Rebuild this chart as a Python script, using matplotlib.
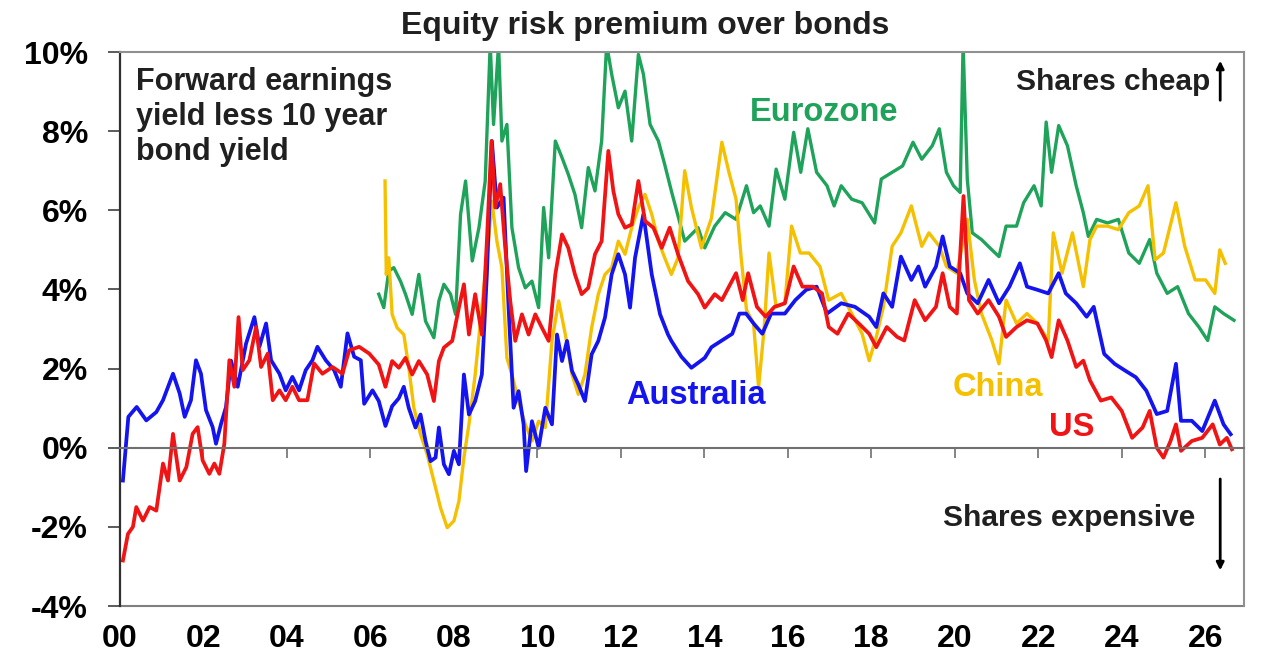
import numpy as np
import matplotlib
matplotlib.use("Agg")
import matplotlib.pyplot as plt

plt.rcParams['font.family'] = ['Liberation Sans', 'DejaVu Sans']
plt.rcParams['font.weight'] = 'bold'

# Australia: forward earnings yield less 10y bond yield (%)
aus_year = [2000.07, 2000.20, 2000.40, 2000.63, 2000.87, 2001.03, 2001.27, 2001.43, 2001.55, 2001.70,
            2001.82, 2001.94, 2002.06, 2002.22, 2002.30, 2002.42, 2002.54, 2002.66, 2002.82, 2003.02,
            2003.22, 2003.34, 2003.50, 2003.62, 2003.82, 2003.97, 2004.13, 2004.29, 2004.45, 2004.61,
            2004.73, 2004.93, 2005.13, 2005.29, 2005.45, 2005.61, 2005.77, 2005.85, 2006.05, 2006.20,
            2006.36, 2006.52, 2006.68, 2006.80, 2006.92, 2007.08, 2007.20, 2007.32, 2007.44, 2007.56,
            2007.64, 2007.76, 2007.88, 2008.00, 2008.12, 2008.24, 2008.36, 2008.51, 2008.67, 2008.79,
            2008.91, 2009.03, 2009.19, 2009.31, 2009.43, 2009.55, 2009.67, 2009.73, 2009.87, 2010.03,
            2010.19, 2010.35, 2010.47, 2010.59, 2010.71, 2010.83, 2010.98, 2011.14, 2011.30, 2011.46,
            2011.62, 2011.78, 2011.94, 2012.10, 2012.22, 2012.34, 2012.54, 2012.74, 2012.94, 2013.13,
            2013.21, 2013.45, 2013.69, 2014.01, 2014.17, 2014.42, 2014.67, 2014.84, 2015.00, 2015.18,
            2015.39, 2015.60, 2015.93, 2016.18, 2016.44, 2016.69, 2016.94, 2017.28, 2017.61, 2017.95,
            2018.12, 2018.29, 2018.50, 2018.71, 2018.96, 2019.13, 2019.29, 2019.55, 2019.71, 2019.88,
            2020.13, 2020.30, 2020.55, 2020.81, 2021.06, 2021.31, 2021.56, 2021.73, 2021.98, 2022.24,
            2022.49, 2022.66, 2022.91, 2023.16, 2023.33, 2023.58, 2023.83, 2024.08, 2024.34, 2024.59,
            2024.84, 2025.09, 2025.30, 2025.42, 2025.68, 2025.93, 2026.23, 2026.44, 2026.61]
aus_val = [-0.83, 0.78, 1.03, 0.69, 0.90, 1.20, 1.87, 1.37, 0.78, 1.20,
           2.21, 1.87, 0.95, 0.52, 0.10, 0.60, 1.03, 2.20, 1.54, 2.63,
           3.30, 2.55, 3.14, 2.21, 1.87, 1.45, 1.79, 1.45, 1.96, 2.21,
           2.55, 2.21, 1.96, 1.54, 2.89, 2.30, 2.21, 1.11, 1.45, 1.18,
           0.55, 1.05, 1.25, 1.54, 1.00, 0.51, 0.84, 0.17, -0.34, -0.25,
           0.51, -0.42, -0.67, -0.08, -0.42, 1.85, 0.84, 1.18, 1.85, 4.38,
           7.75, 6.07, 6.32, 3.54, 1.01, 1.43, 0.59, -0.59, 0.67, 0.00,
           1.01, 0.59, 2.86, 2.19, 2.70, 1.94, 1.60, 1.18, 2.36, 2.70,
           3.29, 4.38, 4.89, 4.38, 3.54, 4.80, 5.90, 4.38, 3.37, 2.86,
           2.70, 2.30, 2.02, 2.27, 2.54, 2.71, 2.88, 3.39, 3.39, 3.14,
           2.88, 3.39, 3.39, 3.73, 3.99, 4.07, 3.39, 3.65, 3.56, 3.31,
           3.05, 3.90, 3.56, 4.83, 4.24, 4.58, 4.07, 4.58, 5.34, 4.58,
           4.41, 3.90, 3.65, 4.24, 3.65, 4.07, 4.66, 4.07, 3.99, 3.90,
           4.41, 3.90, 3.65, 3.31, 3.56, 2.37, 2.12, 1.95, 1.78, 1.44,
           0.85, 0.93, 2.12, 0.68, 0.68, 0.42, 1.19, 0.59, 0.34]

# US
us_year = [2000.07, 2000.19, 2000.31, 2000.39, 2000.55, 2000.71, 2000.87, 2001.03, 2001.15, 2001.27,
           2001.43, 2001.59, 2001.74, 2001.86, 2001.98, 2002.14, 2002.26, 2002.38, 2002.50, 2002.62,
           2002.74, 2002.84, 2002.94, 2003.10, 2003.26, 2003.38, 2003.54, 2003.66, 2003.82, 2003.97,
           2004.13, 2004.29, 2004.49, 2004.65, 2004.85, 2005.09, 2005.33, 2005.49, 2005.73, 2005.97,
           2006.20, 2006.36, 2006.52, 2006.68, 2006.84, 2007.00, 2007.16, 2007.36, 2007.52, 2007.64,
           2007.76, 2007.96, 2008.12, 2008.24, 2008.36, 2008.51, 2008.67, 2008.79, 2008.90, 2008.99,
           2009.11, 2009.23, 2009.35, 2009.47, 2009.63, 2009.79, 2009.95, 2010.11, 2010.27, 2010.43,
           2010.59, 2010.74, 2010.90, 2011.06, 2011.22, 2011.38, 2011.54, 2011.70, 2011.82, 2011.94,
           2012.10, 2012.26, 2012.42, 2012.58, 2012.78, 2012.98, 2013.17, 2013.37, 2013.61, 2013.85,
           2014.01, 2014.25, 2014.42, 2014.76, 2014.92, 2015.05, 2015.26, 2015.47, 2015.68, 2015.93,
           2016.14, 2016.35, 2016.60, 2016.82, 2016.98, 2017.19, 2017.45, 2017.70, 2017.95, 2018.12,
           2018.37, 2018.62, 2018.79, 2019.04, 2019.29, 2019.55, 2019.71, 2019.88, 2020.05, 2020.21,
           2020.34, 2020.55, 2020.81, 2021.06, 2021.23, 2021.48, 2021.73, 2021.98, 2022.19, 2022.32,
           2022.49, 2022.70, 2022.91, 2023.08, 2023.24, 2023.50, 2023.75, 2024.00, 2024.25, 2024.50,
           2024.67, 2024.84, 2025.00, 2025.17, 2025.30, 2025.42, 2025.68, 2025.93, 2026.18, 2026.35,
           2026.52, 2026.64]
us_val = [-2.85, -2.18, -2.00, -1.50, -1.84, -1.50, -1.59, -0.40, -0.83, 0.35,
          -0.83, -0.49, 0.35, 0.52, -0.32, -0.66, -0.40, -0.66, 0.10, 2.21,
          1.54, 3.30, 1.96, 2.21, 3.05, 2.04, 2.38, 1.20, 1.45, 1.20,
          1.54, 1.20, 1.20, 2.13, 1.87, 2.04, 1.87, 2.46, 2.55, 2.38,
          2.10, 1.54, 2.19, 2.02, 2.27, 1.85, 2.19, 1.85, 1.18, 2.19,
          2.53, 2.70, 3.54, 4.13, 2.86, 3.88, 2.86, 5.22, 7.75, 6.07,
          6.66, 5.05, 3.71, 2.70, 3.37, 2.86, 3.37, 3.03, 2.70, 4.38,
          5.39, 5.05, 4.38, 3.88, 4.04, 4.89, 5.22, 7.50, 6.49, 5.90,
          5.56, 5.64, 6.74, 5.73, 5.56, 5.05, 5.56, 4.89, 4.21, 3.88,
          3.54, 3.88, 3.73, 4.41, 3.73, 4.41, 3.56, 3.31, 3.56, 3.65,
          4.58, 4.07, 4.07, 3.90, 3.05, 2.88, 3.39, 3.14, 2.88, 2.54,
          3.05, 2.80, 2.71, 3.73, 3.22, 3.56, 4.41, 3.56, 3.39, 6.36,
          3.73, 3.39, 3.73, 3.31, 2.80, 3.05, 3.22, 3.14, 2.71, 2.29,
          3.22, 2.71, 2.04, 2.20, 1.70, 1.19, 1.27, 0.93, 0.25, 0.51,
          0.93, 0.00, -0.25, 0.17, 0.59, -0.08, 0.17, 0.25, 0.59, 0.08,
          0.25, -0.04]

# Eurozone
eur_year = [2006.20, 2006.32, 2006.44, 2006.56, 2006.72, 2006.84, 2007.00, 2007.16, 2007.32, 2007.52,
            2007.64, 2007.76, 2007.92, 2008.04, 2008.16, 2008.28, 2008.44, 2008.60, 2008.75, 2008.87,
            2008.95, 2009.07, 2009.15, 2009.27, 2009.39, 2009.55, 2009.71, 2009.87, 2010.03, 2010.15,
            2010.27, 2010.43, 2010.59, 2010.74, 2010.90, 2011.06, 2011.22, 2011.38, 2011.54, 2011.66,
            2011.78, 2011.94, 2012.10, 2012.26, 2012.42, 2012.54, 2012.70, 2012.90, 2013.05, 2013.21,
            2013.53, 2013.85, 2014.01, 2014.25, 2014.50, 2014.76, 2015.01, 2015.18, 2015.34, 2015.55,
            2015.72, 2015.93, 2016.14, 2016.31, 2016.48, 2016.69, 2016.94, 2017.11, 2017.28, 2017.53,
            2017.78, 2018.08, 2018.24, 2018.50, 2018.75, 2019.00, 2019.21, 2019.46, 2019.63, 2019.80,
            2019.97, 2020.13, 2020.20, 2020.30, 2020.42, 2020.64, 2020.89, 2021.06, 2021.23, 2021.48,
            2021.65, 2021.90, 2022.07, 2022.19, 2022.32, 2022.49, 2022.70, 2022.91, 2023.08, 2023.20,
            2023.40, 2023.66, 2023.92, 2024.17, 2024.42, 2024.67, 2024.84, 2025.09, 2025.34, 2025.60,
            2025.85, 2026.06, 2026.23, 2026.44, 2026.69]
eur_val = [3.88, 3.54, 4.47, 4.55, 4.21, 3.88, 3.37, 4.38, 3.20, 2.78,
           3.71, 4.13, 3.88, 3.37, 5.90, 6.74, 4.72, 5.56, 6.74, 10.2,
           8.17, 10.2, 7.75, 8.17, 5.56, 4.55, 4.04, 4.21, 3.54, 6.07,
           4.80, 7.75, 7.33, 6.91, 6.40, 5.56, 7.08, 6.49, 7.75, 10.2,
           9.44, 8.59, 9.01, 7.75, 9.94, 9.44, 8.17, 7.75, 7.16, 6.49,
           5.22, 5.56, 5.05, 5.60, 5.94, 5.77, 6.62, 5.94, 6.11, 5.60,
           7.04, 6.28, 7.97, 6.96, 8.06, 6.96, 6.62, 6.11, 6.62, 6.28,
           6.19, 5.68, 6.79, 6.96, 7.12, 7.72, 7.29, 7.63, 8.06, 6.96,
           6.62, 6.45, 10.2, 6.79, 5.43, 5.26, 5.00, 4.83, 5.60, 5.60,
           6.19, 6.62, 6.11, 8.23, 6.96, 8.14, 7.63, 6.62, 5.94, 5.34,
           5.77, 5.68, 5.77, 4.92, 4.66, 5.26, 4.41, 3.90, 4.07, 3.39,
           3.05, 2.71, 3.56, 3.39, 3.22]

# China
chn_year = [2006.35, 2006.38, 2006.44, 2006.52, 2006.64, 2006.80, 2006.92, 2007.04, 2007.20, 2007.36,
            2007.52, 2007.68, 2007.84, 2008.00, 2008.12, 2008.24, 2008.36, 2008.51, 2008.67, 2008.83,
            2008.91, 2009.03, 2009.15, 2009.27, 2009.39, 2009.55, 2009.71, 2009.87, 2010.03, 2010.19,
            2010.35, 2010.51, 2010.67, 2010.83, 2010.98, 2011.14, 2011.30, 2011.46, 2011.62, 2011.78,
            2011.94, 2012.10, 2012.26, 2012.42, 2012.58, 2012.74, 2012.90, 2013.05, 2013.21, 2013.37,
            2013.53, 2013.69, 2013.93, 2014.17, 2014.42, 2014.59, 2014.76, 2014.88, 2015.01, 2015.18,
            2015.30, 2015.43, 2015.55, 2015.72, 2015.93, 2016.09, 2016.30, 2016.51, 2016.77, 2016.98,
            2017.28, 2017.53, 2017.78, 2017.95, 2018.12, 2018.29, 2018.50, 2018.71, 2018.96, 2019.21,
            2019.38, 2019.63, 2019.80, 2020.05, 2020.30, 2020.47, 2020.64, 2020.89, 2021.06, 2021.23,
            2021.48, 2021.73, 2021.98, 2022.24, 2022.36, 2022.57, 2022.82, 2023.08, 2023.24, 2023.40,
            2023.66, 2023.92, 2024.17, 2024.42, 2024.63, 2024.80, 2025.00, 2025.30, 2025.51, 2025.76,
            2026.01, 2026.23, 2026.35, 2026.48]
chn_val = [6.74, 4.38, 4.80, 3.37, 3.03, 2.86, 2.02, 1.01, 0.34, -0.17,
           -0.84, -1.52, -2.02, -1.85, -1.35, -0.25, 0.59, 1.85, 3.54, 5.22,
           6.23, 5.22, 4.55, 2.27, 1.85, 1.18, 0.59, 0.17, 0.67, 0.51,
           2.70, 3.71, 2.86, 1.85, 1.35, 1.85, 3.03, 3.88, 4.38, 4.55,
           5.22, 4.89, 5.56, 6.07, 6.40, 5.90, 5.22, 4.80, 4.38, 4.80,
           7.00, 6.07, 5.05, 5.80, 7.72, 6.96, 6.28, 4.83, 3.48, 3.14,
           1.53, 2.97, 4.92, 3.56, 3.65, 5.60, 4.92, 4.92, 4.58, 3.73,
           3.90, 3.39, 2.88, 2.20, 2.80, 3.56, 5.09, 5.43, 6.11, 5.09,
           5.43, 5.09, 4.58, 4.41, 5.77, 4.24, 3.39, 2.71, 2.12, 3.73,
           3.14, 3.39, 3.14, 2.71, 5.43, 4.41, 5.43, 4.07, 5.26, 5.60,
           5.60, 5.51, 5.94, 6.11, 6.62, 4.75, 4.92, 6.19, 5.09, 4.24,
           4.24, 3.90, 5.00, 4.66]

year_ticks = list(range(2000, 2027, 2))
year_labels = ["%02d" % (y % 100) for y in year_ticks]
pct_ticks = list(range(-4, 11, 2))

c_aus = '#1414f0'
c_us = '#f01414'
c_eur = '#1fa35a'
c_chn = '#f5c000'

fig = plt.figure(figsize=(12.8, 6.64), dpi=100)
ax = fig.add_axes([120 / 1280, 1 - 606 / 664, 1124 / 1280, 554 / 664])

ax.plot(eur_year, eur_val, color=c_eur, lw=2.4)
ax.plot(chn_year, chn_val, color=c_chn, lw=2.4)
ax.plot(aus_year, aus_val, color=c_aus, lw=2.7)
ax.plot(us_year, us_val, color=c_us, lw=2.7)

ax.set_xlim(2000, 2026.93)
ax.set_ylim(-4, 10)

# y axis
ax.set_yticks(pct_ticks)
ax.set_yticklabels(["%d%%" % v for v in pct_ticks])
ax.tick_params(axis='y', length=9, width=1.2, pad=14, labelsize=23, color='#404040')
ax.spines['left'].set_color('#303030')
ax.spines['left'].set_linewidth(1.6)
ax.spines['top'].set_color('#909090')
ax.spines['right'].set_color('#909090')
ax.spines['top'].set_linewidth(1.5)
ax.spines['right'].set_linewidth(1.5)

# x axis crosses at 0, labels sit at the bottom of the frame
ax.spines['bottom'].set_position(('data', 0))
ax.spines['bottom'].set_color('#707070')
ax.spines['bottom'].set_linewidth(1.5)
ax.set_xticks(year_ticks)
ax.tick_params(axis='x', length=7, width=1.2, direction='out', color='#707070',
               labelbottom=False)

sec = ax.secondary_xaxis('bottom')
sec.set_xticks(year_ticks)
sec.set_xticklabels(year_labels)
sec.tick_params(length=0, pad=13, labelsize=23)
sec.spines['bottom'].set_color('#808080')
sec.spines['bottom'].set_linewidth(1.5)

# title and labels
fig.text(645 / 1280, 1 - 26 / 664, "Equity risk premium over bonds", ha='center', va='center',
         fontsize=23, fontweight='bold', color='#202020')
ax.text(2000.38, 9.62, "Forward earnings\nyield less 10 year\nbond yield", ha='left', va='top',
        fontsize=22, fontweight='bold', color='#202020', linespacing=1.22)
ax.text(2016.87, 8.48, "Eurozone", color=c_eur, fontsize=23.5, fontweight='bold', ha='center', va='center')
ax.text(2013.81, 1.31, "Australia", color=c_aus, fontsize=23.5, fontweight='bold', ha='center', va='center')
ax.text(2021.03, 1.51, "China", color=c_chn, fontsize=23.5, fontweight='bold', ha='center', va='center')
ax.text(2022.8, 0.50, "US", color=c_us, fontsize=23.5, fontweight='bold', ha='center', va='center')
ax.text(2026.12, 9.24, "Shares cheap", color='#202020', fontsize=21.5, fontweight='bold', ha='right', va='center')
ax.text(2025.76, -1.78, "Shares expensive", color='#202020', fontsize=21.5, fontweight='bold', ha='right', va='center')

ax.annotate("", xy=(2026.36, 9.85), xytext=(2026.36, 8.71),
            arrowprops=dict(arrowstyle='-|>', color='black', lw=2.0, mutation_scale=11))
ax.annotate("", xy=(2026.36, -3.17), xytext=(2026.36, -0.72),
            arrowprops=dict(arrowstyle='-|>', color='black', lw=2.0, mutation_scale=11))

fig.savefig("out.png", dpi=100)
